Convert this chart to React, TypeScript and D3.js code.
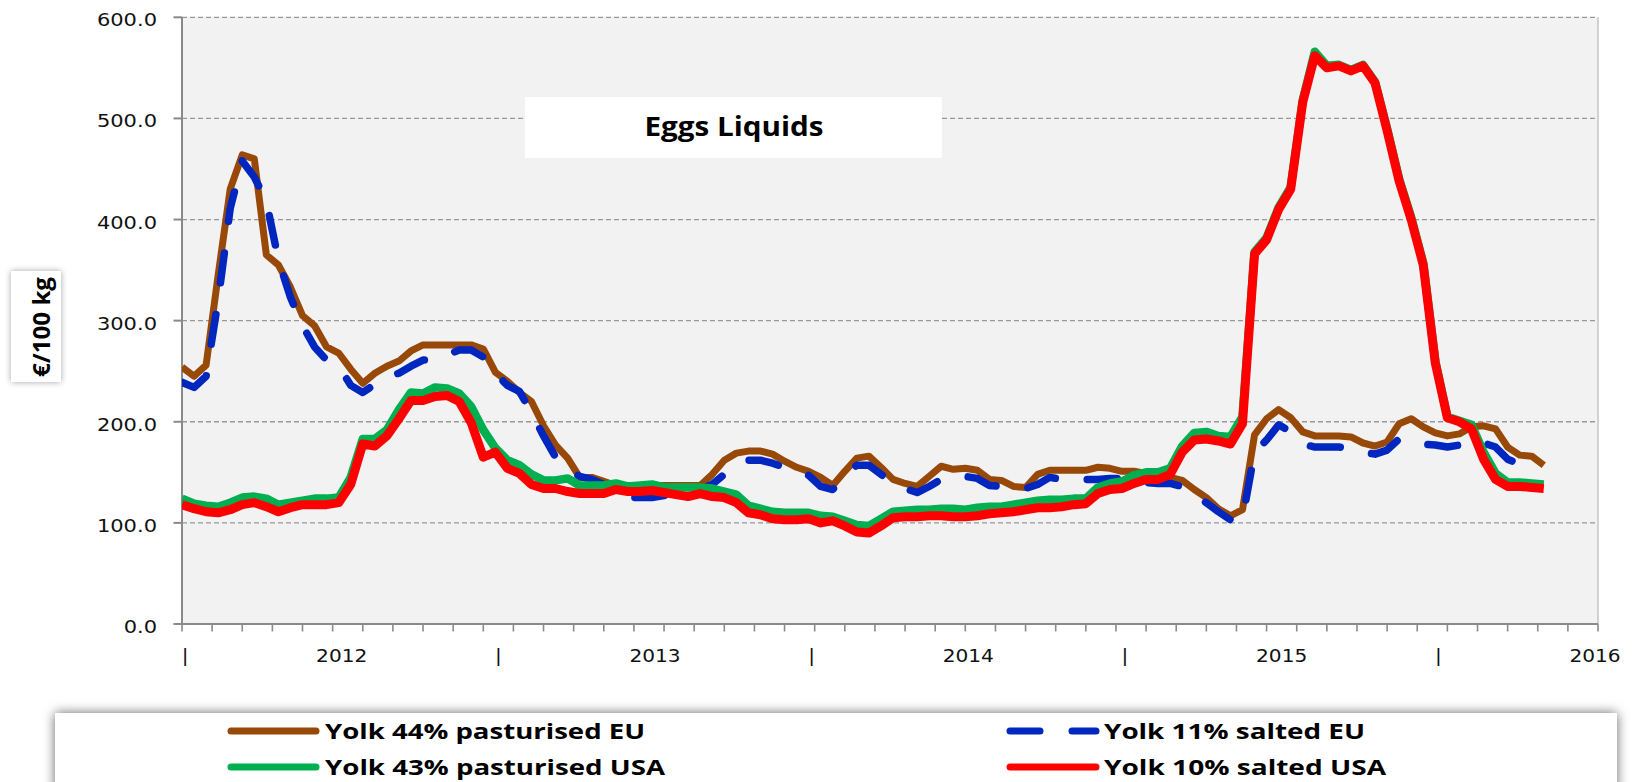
import { useEffect } from 'react'
import * as d3 from 'd3'

// week index (category) of each sampled point, 2 weeks apart
const weeks = [
  0, 2, 4, 6, 8, 10, 12, 14, 16, 18,
  20, 22, 24, 26, 28, 30, 32, 34, 36, 38,
  40, 42, 44, 46, 48, 50, 52, 54, 56, 58,
  60, 62, 64, 66, 68, 70, 72, 74, 76, 78,
  80, 82, 84, 86, 88, 90, 92, 94, 96, 98,
  100, 102, 104, 106, 108, 110, 112, 114, 116, 118,
  120, 122, 124, 126, 128, 130, 132, 134, 136, 138,
  140, 142, 144, 146, 148, 150, 152, 154, 156, 158,
  160, 162, 164, 166, 168, 170, 172, 174, 176, 178,
  180, 182, 184, 186, 188, 190, 192, 194, 196, 198,
  200, 202, 204, 206, 208, 210, 212, 214, 216, 218,
  220, 222, 224, 226,
]

const yolk44EU = [
  254, 245, 256, 345, 430, 464, 460, 365, 355, 333,
  305, 295, 274, 268, 252, 238, 248, 255, 260, 270,
  276, 276, 276, 276, 276, 272, 249, 240, 229, 220,
  196, 177, 164, 145, 145, 141, 137, 137, 137, 137,
  137, 137, 137, 137, 148, 162, 169, 171, 171, 168,
  161, 155, 151, 145, 137, 151, 164, 166, 155, 143,
  139, 136, 146, 156, 153, 154, 152, 143, 142, 136,
  135, 148, 152, 152, 152, 152, 155, 154, 151, 151,
  149, 147, 145, 142, 133, 125, 114, 107, 113, 187,
  203, 212, 204, 190, 186, 186, 186, 185, 179, 176,
  180, 198, 203, 195, 189, 186, 188, 195, 196, 193,
  175, 167, 166, 157,
]

const yolk11EU = [
  239, 234, 245, 320, 411, 458, 442, 418, 360, 323,
  295, 274, 261, 255, 236, 229, 237, 245, 248, 255,
  261, 261, 266, 271, 271, 264, 248, 236, 230, 209,
  186, 165, 152, 146, 143, 138, 130, 125, 125, 125,
  127, 130, 132, 133, 138, 148, 158, 162, 162, 159,
  155, 150, 147, 136, 133, 148, 157, 157, 148, 140,
  134, 130, 136, 143, 146, 146, 144, 137, 136, 135,
  134, 138, 145, 143, 143, 143, 143, 144, 144, 143,
  140, 139, 139, 136, 127, 120, 111, 103, 104, 170,
  182, 197, 190, 178, 175, 175, 175, 174, 170, 168,
  172, 183, 180, 178, 177, 175, 177, 182, 179, 175,
  163, 158, null, null,
]

const yolk43USA = [
  124, 119, 117, 116, 120, 125, 126, 124, 118, 120,
  122, 124, 124, 125, 145, 183, 183, 192, 212, 229,
  228, 234, 233, 228, 215, 192, 174, 162, 157, 148,
  142, 142, 144, 137, 137, 137, 139, 136, 137, 138,
  135, 135, 135, 135, 134, 131, 128, 117, 114, 111,
  110, 110, 110, 107, 106, 102, 98, 97, 104, 111,
  112, 113, 113, 114, 114, 113, 115, 116, 116, 118,
  120, 122, 123, 123, 124, 124, 135, 139, 141, 147,
  150, 150, 154, 176, 189, 190, 186, 185, 205, 368,
  382, 412, 432, 518, 566, 552, 553, 548, 553, 536,
  490, 440, 402, 357, 260, 205, 201, 197, 170, 149,
  140, 140, 139, 138,
]

const yolk10USA = [
  118, 114, 111, 110, 113, 118, 120, 116, 111, 115,
  118, 118, 118, 120, 138, 178, 176, 186, 203, 221,
  221, 225, 226, 220, 199, 165, 170, 154, 149, 138,
  134, 134, 131, 129, 129, 129, 133, 131, 131, 132,
  130, 128, 126, 129, 126, 125, 120, 110, 108, 104,
  103, 103, 104, 100, 102, 97, 91, 90, 97, 105,
  106, 106, 107, 107, 106, 106, 107, 109, 110, 111,
  113, 115, 115, 116, 118, 119, 129, 133, 134, 139,
  143, 143, 148, 170, 182, 183, 181, 178, 198, 366,
  380, 410, 430, 516, 562, 550, 552, 547, 552, 535,
  488, 438, 400, 355, 258, 204, 200, 193, 163, 143,
  136, 136, 135, 134,
]

const yTicks = [0, 100, 200, 300, 400, 500, 600]
const xLabels = ['|', '2012', '|', '2013', '|', '2014', '|', '2015', '|', '2016']

const series = [
  { name: 'Yolk 44% pasturised EU', values: yolk44EU, color: '#984807', width: 7, dash: null },
  { name: 'Yolk 11% salted EU', values: yolk11EU, color: '#0026c0', width: 7.5, dash: '30 32' },
  { name: 'Yolk 43% pasturised USA', values: yolk43USA, color: '#00b050', width: 8.5, dash: null },
  { name: 'Yolk 10% salted USA', values: yolk10USA, color: '#ff0000', width: 9, dash: null },
]

const W = 1638
const H = 782
const plot = { left: 182, right: 1598, top: 17.3, bottom: 624 }
const nWeeks = 235

export default function App() {
  useEffect(() => {
    document.body.style.margin = '0'
  }, [])

  const x = d3.scaleLinear().domain([0, nWeeks]).range([plot.left, plot.right])
  const y = d3.scaleLinear().domain([0, 600]).range([plot.bottom, plot.top])

  const lineGen = d3
    .line<number | null>()
    .defined(v => v !== null)
    .x((_, i) => x(weeks[i]))
    .y(v => y(v as number))

  const minorTicks = d3.range(0, nWeeks + 1, 5)

  // legend placement
  const legendItems = [
    { s: series[0], x1: 231, x2: 316, ty: 739, ly: 731, tx: 325, tl: 320 },
    { s: series[1], x1: 1010, x2: 1096, ty: 739, ly: 731, tx: 1104, tl: 261 },
    { s: series[2], x1: 231, x2: 316, ty: 775, ly: 767, tx: 325, tl: 340 },
    { s: series[3], x1: 1010, x2: 1096, ty: 775, ly: 767, tx: 1104, tl: 282 },
  ]

  return (
    <svg
      width={W}
      height={H}
      style={{ display: 'block', position: 'absolute', left: 0, top: 0, background: '#fff' }}
    >
      <defs>
        <filter id="shadow" x="-5%" y="-40%" width="110%" height="180%">
          <feDropShadow dx="0" dy="0" stdDeviation="6" floodColor="#000" floodOpacity="0.6" />
        </filter>
        <filter id="shadowSmall" x="-40%" y="-20%" width="180%" height="140%">
          <feDropShadow dx="0" dy="0" stdDeviation="3" floodColor="#000" floodOpacity="0.35" />
        </filter>
        <clipPath id="plotClip">
          <rect x={plot.left} y={0} width={plot.right - plot.left} height={plot.bottom} />
        </clipPath>
      </defs>

      {/* plot area */}
      <rect
        x={plot.left}
        y={plot.top}
        width={plot.right - plot.left}
        height={plot.bottom - plot.top}
        fill="#f2f2f2"
      />
      <line x1={plot.right} x2={plot.right} y1={plot.top} y2={plot.bottom} stroke="#c4c4c4" strokeWidth={1.5} />

      {/* gridlines */}
      {yTicks.slice(1).map(t => (
        <line
          key={t}
          x1={plot.left}
          x2={plot.right}
          y1={y(t)}
          y2={y(t)}
          stroke="#979797"
          strokeWidth={1.3}
          strokeDasharray="5 3"
        />
      ))}

      {/* title box */}
      <rect x={525} y={97} width={417} height={61} fill="#fff" />
      <text
        x={734}
        y={136}
        textAnchor="middle"
        fontFamily="'Open Sans', sans-serif"
        fontWeight={700}
        fontSize={26}
        textLength={179}
        lengthAdjust="spacingAndGlyphs"
        fill="#000"
      >
        Eggs Liquids
      </text>

      {/* axes */}
      <line x1={plot.left} x2={plot.left} y1={plot.top} y2={plot.bottom} stroke="#8a8a8a" strokeWidth={2} />
      <line x1={plot.left} x2={plot.right} y1={plot.bottom} y2={plot.bottom} stroke="#8a8a8a" strokeWidth={2} />
      {yTicks.map(t => (
        <g key={t}>
          <line x1={plot.left - 8.5} x2={plot.left} y1={y(t)} y2={y(t)} stroke="#8a8a8a" strokeWidth={2} />
          <text
            transform={`translate(157,${y(t) + 9}) scale(1.2,1)`}
            textAnchor="end"
            fontFamily="'DejaVu Sans', sans-serif"
            fontSize={17.5}
            fill="#111"
          >
            {t.toFixed(1)}
          </text>
        </g>
      ))}
      {minorTicks.map(t => (
        <line key={t} x1={x(t)} x2={x(t)} y1={plot.bottom} y2={plot.bottom + 7.5} stroke="#8a8a8a" strokeWidth={1.6} />
      ))}
      {xLabels.map((lab, i) => (
        <text
          key={i}
          transform={`translate(${x(i * 26 + 0.5)},662) scale(1.15,1)`}
          textAnchor="middle"
          fontFamily="'DejaVu Sans', sans-serif"
          fontSize={17.5}
          fill="#111"
        >
          {lab}
        </text>
      ))}

      {/* series */}
      <g clipPath="url(#plotClip)">
        {series.map(s => (
          <path
            key={s.name}
            d={lineGen(s.values) ?? ''}
            fill="none"
            stroke={s.color}
            strokeWidth={s.width}
            strokeLinejoin="round"
            strokeLinecap={s.dash ? 'round' : 'butt'}
            strokeDasharray={s.dash ?? undefined}
          />
        ))}
      </g>

      {/* y axis title */}
      <rect x={11} y={271} width={50} height={111} fill="#fff" filter="url(#shadowSmall)" />
      <text
        transform="translate(50,327) rotate(-90)"
        textAnchor="middle"
        fontFamily="'Open Sans', sans-serif"
        fontWeight={700}
        fontSize={24}
        textLength={100}
        lengthAdjust="spacingAndGlyphs"
        fill="#000"
      >
        €/100 kg
      </text>

      {/* legend */}
      <rect x={55} y={713} width={1562} height={80} fill="#fff" filter="url(#shadow)" />
      {legendItems.map(it => (
        <g key={it.s.name}>
          <line
            x1={it.x1}
            x2={it.x2}
            y1={it.ly}
            y2={it.ly}
            stroke={it.s.color}
            strokeWidth={7}
            strokeLinecap="round"
            strokeDasharray={it.s.dash ?? undefined}
          />
          <text
            x={it.tx}
            y={it.ty}
            fontFamily="'Open Sans', sans-serif"
            fontWeight={700}
            fontSize={22}
            textLength={it.tl}
            lengthAdjust="spacingAndGlyphs"
            fill="#000"
          >
            {it.s.name}
          </text>
        </g>
      ))}
    </svg>
  )
}
